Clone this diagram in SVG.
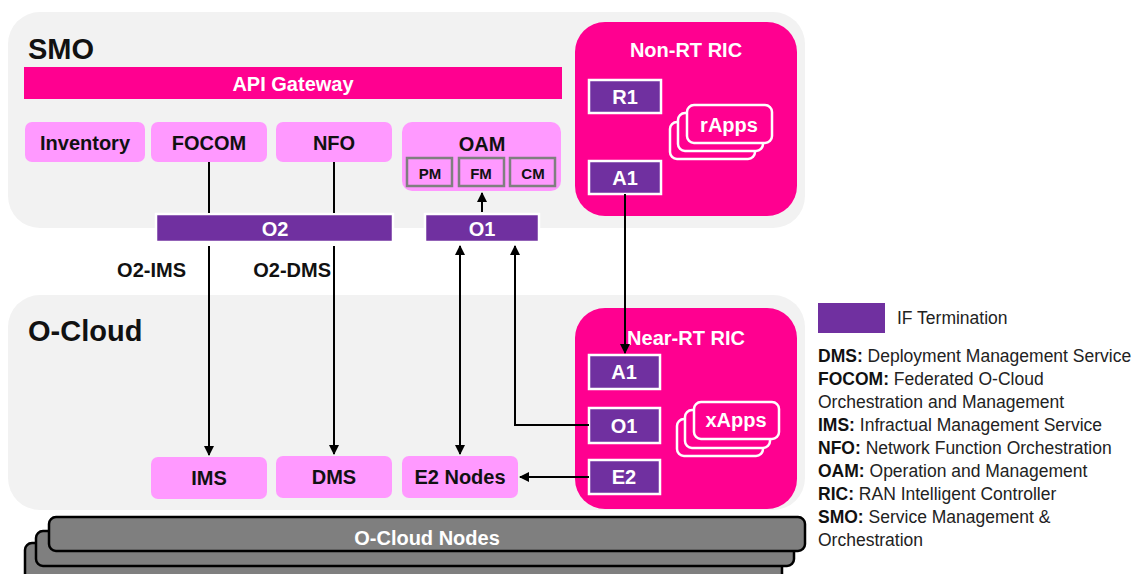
<svg xmlns="http://www.w3.org/2000/svg" width="1134" height="574" viewBox="0 0 1134 574">
<style>
text{font-family:"Liberation Sans",Arial,sans-serif;}
.area{fill:#f2f2f2;}
.title{font-size:29px;font-weight:bold;fill:#111;}
.pink{fill:#ff99ff;}
.lbl{font-size:20px;font-weight:bold;fill:#111;text-anchor:middle;dominant-baseline:central;}
.wlbl{font-size:20px;font-weight:bold;fill:#fff;text-anchor:middle;dominant-baseline:central;}
.mag{fill:#ff0090;}
.ift{fill:#7030a0;stroke:#fff;stroke-width:2.5;}
.sub{fill:none;stroke:#7f7f7f;stroke-width:2.5;}
.sublbl{font-size:15px;font-weight:bold;fill:#111;text-anchor:middle;dominant-baseline:central;}
.app{fill:#ff0090;stroke:#fff;stroke-width:2.5;}
.node{fill:#7f7f7f;stroke:#000;stroke-width:2.5;}
.conn{fill:none;stroke:#000;stroke-width:2;}
.leg{font-size:17.5px;fill:#222;}
.legb{font-weight:bold;fill:#111;}
</style>
<defs>
<marker id="ah" viewBox="0 0 10 10" refX="9" refY="5" markerWidth="5" markerHeight="5" orient="auto-start-reverse">
<path d="M0,0 L10,5 L0,10 z" fill="#000"/>
</marker>
</defs>

<!-- Areas -->
<g id="smo">
<rect class="area" x="8" y="12" width="797" height="216" rx="32"/>
<text class="title" x="28" y="59">SMO</text>
</g>
<g id="ocloud">
<rect class="area" x="8" y="295" width="797" height="215" rx="32"/>
<text class="title" x="28" y="341">O-Cloud</text>
</g>

<!-- O-Cloud Nodes -->
<g id="ocloud-nodes">
<rect class="node" x="25" y="543" width="757" height="50" rx="7"/>
<rect class="node" x="36" y="531" width="758" height="35" rx="7"/>
<rect class="node" x="49" y="517" width="756" height="34" rx="7"/>
<text class="wlbl" x="427" y="538">O-Cloud Nodes</text>
</g>

<g id="api-gateway">
<rect class="mag" x="24" y="67" width="538" height="32"/>
<text class="wlbl" x="293" y="84">API Gateway</text>
</g>

<g id="inventory">
<rect class="pink" x="25" y="122" width="120" height="40" rx="7"/>
<text class="lbl" x="85" y="143">Inventory</text>
</g>
<g id="focom">
<rect class="pink" x="151" y="122" width="116" height="40" rx="7"/>
<text class="lbl" x="209" y="143">FOCOM</text>
</g>
<g id="nfo">
<rect class="pink" x="276" y="122" width="116" height="40" rx="7"/>
<text class="lbl" x="334" y="143">NFO</text>
</g>
<g id="oam">
<rect class="pink" x="402" y="122" width="159" height="69" rx="10"/>
<text class="lbl" x="482" y="144">OAM</text>
<rect class="sub" x="407" y="158" width="45" height="28"/>
<text class="sublbl" x="430" y="173">PM</text>
<rect class="sub" x="459" y="158" width="45" height="28"/>
<text class="sublbl" x="481" y="173">FM</text>
<rect class="sub" x="510" y="158" width="45" height="28"/>
<text class="sublbl" x="533" y="173">CM</text>
</g>

<g id="o2">
<rect class="ift" x="156" y="214" width="237" height="28"/>
<text class="wlbl" x="275" y="229">O2</text>
</g>
<g id="o1">
<rect class="ift" x="425" y="214" width="114" height="28"/>
<text class="wlbl" x="482" y="229">O1</text>
</g>

<g id="ims">
<rect class="pink" x="151" y="457" width="116" height="42" rx="7"/>
<text class="lbl" x="209" y="478">IMS</text>
</g>
<g id="dms">
<rect class="pink" x="276" y="456" width="116" height="42" rx="7"/>
<text class="lbl" x="334" y="477">DMS</text>
</g>
<g id="e2-nodes">
<rect class="pink" x="402" y="456" width="116" height="42" rx="7"/>
<text class="lbl" x="460" y="477">E2 Nodes</text>
</g>

<g id="non-rt-ric">
<rect class="mag" x="575" y="22" width="222" height="194" rx="30"/>
<text class="wlbl" x="686" y="50">Non-RT RIC</text>
<rect class="ift" x="589" y="80" width="72" height="33"/>
<text class="wlbl" x="625" y="97">R1</text>
<rect class="ift" x="589" y="161" width="72" height="33"/>
<text class="wlbl" x="625" y="178">A1</text>
<rect class="app" x="670" y="122" width="85" height="37" rx="7"/>
<rect class="app" x="678" y="113" width="85" height="38" rx="7"/>
<rect class="app" x="687" y="105" width="85" height="38" rx="7"/>
<text class="wlbl" x="729" y="125">rApps</text>
</g>

<g id="near-rt-ric">
<rect class="mag" x="575" y="308" width="222" height="201" rx="30"/>
<text class="wlbl" x="686" y="338">Near-RT RIC</text>
<rect class="ift" x="589" y="355" width="71" height="34"/>
<text class="wlbl" x="624" y="372">A1</text>
<rect class="ift" x="589" y="408" width="71" height="35"/>
<text class="wlbl" x="624" y="426">O1</text>
<rect class="ift" x="589" y="460" width="71" height="34"/>
<text class="wlbl" x="624" y="477">E2</text>
<rect class="app" x="677" y="419" width="86" height="37" rx="7"/>
<rect class="app" x="685" y="410" width="85" height="38" rx="7"/>
<rect class="app" x="694" y="402" width="85" height="37" rx="7"/>
<text class="wlbl" x="736" y="420">xApps</text>
</g>

<g id="connectors">
<line class="conn" x1="209" y1="162" x2="209" y2="213"/>
<line class="conn" x1="334" y1="162" x2="334" y2="213"/>
<line class="conn" x1="209" y1="246" x2="209" y2="455" marker-end="url(#ah)"/>
<line class="conn" x1="334" y1="246" x2="334" y2="454" marker-end="url(#ah)"/>
<line class="conn" x1="482" y1="212" x2="482" y2="193" marker-end="url(#ah)"/>
<line class="conn" x1="460" y1="246" x2="460" y2="454" marker-start="url(#ah)" marker-end="url(#ah)"/>
<polyline class="conn" points="589,425 515,425 515,246" marker-end="url(#ah)"/>
<line class="conn" x1="625" y1="194" x2="625" y2="353" marker-end="url(#ah)"/>
<line class="conn" x1="589" y1="477" x2="520" y2="477" marker-end="url(#ah)"/>
<text class="lbl" x="186" y="270" style="text-anchor:end">O2-IMS</text>
<text class="lbl" x="331" y="270" style="text-anchor:end">O2-DMS</text>
</g>

<g id="legend">
<rect x="818" y="303" width="67" height="30" fill="#7030a0"/>
<text class="leg" x="897" y="324">IF Termination</text>
<text class="leg" x="818" y="362"><tspan class="legb">DMS:</tspan> Deployment Management Service</text>
<text class="leg" x="818" y="385"><tspan class="legb">FOCOM:</tspan> Federated O-Cloud</text>
<text class="leg" x="818" y="408">Orchestration and Management</text>
<text class="leg" x="818" y="431"><tspan class="legb">IMS:</tspan> Infractual Management Service</text>
<text class="leg" x="818" y="454"><tspan class="legb">NFO:</tspan> Network Function Orchestration</text>
<text class="leg" x="818" y="477"><tspan class="legb">OAM:</tspan> Operation and Management</text>
<text class="leg" x="818" y="500"><tspan class="legb">RIC:</tspan> RAN Intelligent Controller</text>
<text class="leg" x="818" y="523"><tspan class="legb">SMO:</tspan> Service Management &amp;</text>
<text class="leg" x="818" y="546">Orchestration</text>
</g>
</svg>
